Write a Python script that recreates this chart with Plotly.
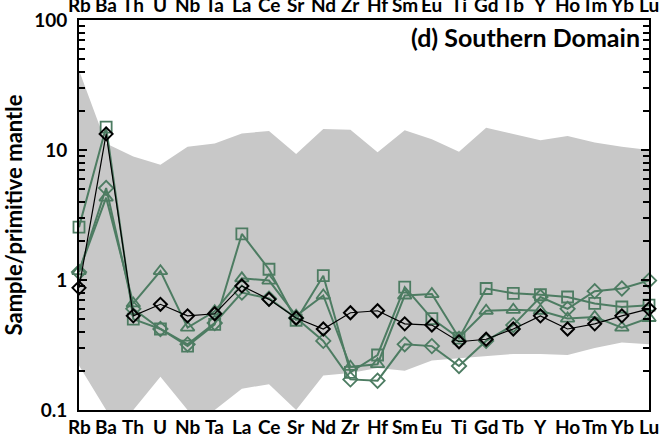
import plotly.graph_objects as go

# Trace elements (primitive-mantle normalised spider diagram)
elements = ["Rb", "Ba", "Th", "U", "Nb", "Ta", "La", "Ce", "Sr", "Nd", "Zr",
            "Hf", "Sm", "Eu", "Ti", "Gd", "Tb", "Y", "Ho", "Tm", "Yb", "Lu"]

# Envelope of the comparison data set
envelope_upper = [41, 11.2, 8.9, 7.7, 10.6, 11.2, 13.4, 14.0, 9.3, 14.5, 14.3,
                  9.6, 14.2, 12.1, 9.7, 14.8, 13.3, 11.9, 12.8, 11.4, 10.6, 10.0]
envelope_lower = [0.22, 0.1, 0.1, 0.18, 0.1, 0.1, 0.146, 0.158, 0.1, 0.184, 0.193,
                  0.21, 0.2, 0.24, 0.25, 0.26, 0.27, 0.27, 0.265, 0.3, 0.33, 0.32]

# Southern Domain samples
sample_squares = [2.55, 15.0, 0.50, 0.42, 0.31, 0.455, 2.26, 1.21, 0.49, 1.08, 0.195,
                  0.265, 0.88, 0.505, 0.357, 0.86, 0.79, 0.77, 0.74, 0.66, 0.62, 0.64]
sample_triangles = [1.17, 4.3, 0.66, 1.17, 0.43, 0.575, 1.03, 0.99, 0.53, 0.76, 0.215,
                    0.225, 0.76, 0.78, 0.36, 0.58, 0.59, 0.58, 0.505, 0.52, 0.43, 0.51]
sample_diamonds = [1.15, 5.1, 0.6, 0.42, 0.32, 0.467, 0.8, 0.72, 0.51, 0.34, 0.172,
                   0.168, 0.32, 0.31, 0.218, 0.34, 0.45, 0.74, 0.6, 0.82, 0.86, 0.99]
sample_black = [0.87, 13.3, 0.53, 0.65, 0.53, 0.55, 0.9, 0.71, 0.51, 0.42, 0.56,
                0.58, 0.46, 0.45, 0.335, 0.35, 0.42, 0.53, 0.42, 0.46, 0.53, 0.6]

x = list(range(len(elements)))
GREEN = "#4d7c62"
GREY = "#c8c8c8"
FONT = "Lato"
label_font = dict(family=FONT, size=19, weight="bold", color="black")

fig = go.Figure()

# grey envelope
fig.add_trace(go.Scatter(x=x, y=envelope_lower, mode="lines",
                         line=dict(width=0, color=GREY), hoverinfo="skip",
                         showlegend=False))
fig.add_trace(go.Scatter(x=x, y=envelope_upper, mode="lines", fill="tonexty",
                         fillcolor=GREY, line=dict(width=0, color=GREY),
                         hoverinfo="skip", showlegend=False))

for vals, sym, size in [(sample_squares, "square-open", 11),
                        (sample_triangles, "triangle-up-open", 12),
                        (sample_diamonds, "diamond-open", 11)]:
    fig.add_trace(go.Scatter(
        x=x, y=vals, mode="lines+markers", cliponaxis=False,
        line=dict(color=GREEN, width=2),
        marker=dict(symbol=sym, size=size, color=GREEN,
                    line=dict(color=GREEN, width=1.8)),
        showlegend=False))

fig.add_trace(go.Scatter(
    x=x, y=sample_black, mode="lines+markers", cliponaxis=False,
    line=dict(color="black", width=1.2),
    marker=dict(symbol="diamond-open", size=10, color="black",
                line=dict(color="black", width=2)),
    showlegend=False))

# element labels below the axis and repeated along the top edge
for i, el in enumerate(elements):
    fig.add_annotation(x=i, xref="x", y=0, yref="paper", yanchor="top",
                       yshift=-3, text=el, showarrow=False, font=label_font)
    fig.add_annotation(x=i, xref="x", y=1, yref="paper", yanchor="bottom",
                       yshift=2, text=el, showarrow=False, font=label_font)

fig.add_annotation(x=0.988, xref="paper", y=1.0, yref="paper",
                   xanchor="right", yanchor="top", text="(d) Southern Domain",
                   showarrow=False,
                   font=dict(family=FONT, size=25, weight="bold", color="black"))

major = [0.1, 1, 10, 100]
minor = [m * d for d in (0.1, 1, 10) for m in range(2, 10)]

fig.update_xaxes(range=[0, len(elements) - 1], tickmode="array", tickvals=x,
                 showticklabels=False, ticks="", showgrid=False, zeroline=False,
                 showline=True, linecolor="black", linewidth=2, mirror=True,
                 automargin=False)
fig.update_yaxes(type="log", range=[-1, 2], tickmode="array", tickvals=major,
                 ticktext=["0.1", "1", "10", "100"], ticks="inside", ticklen=8,
                 tickwidth=2, tickcolor="black", showgrid=False, zeroline=False,
                 showline=True, linecolor="black", linewidth=2, mirror="allticks",
                 ticklabelstandoff=6, automargin=False,
                 minor=dict(tickvals=minor, ticks="inside", ticklen=6,
                            tickwidth=2, tickcolor="black", showgrid=False),
                 title=dict(text="Sample/primitive mantle", standoff=6,
                            font=dict(family=FONT, size=22, weight="bold",
                                      color="black")),
                 tickfont=dict(family=FONT, size=19, weight="bold", color="black"))

fig.update_layout(width=665, height=438,
                  margin=dict(l=79, r=16, t=20, b=28),
                  paper_bgcolor="white", plot_bgcolor="white")

fig.write_html("out.html")
